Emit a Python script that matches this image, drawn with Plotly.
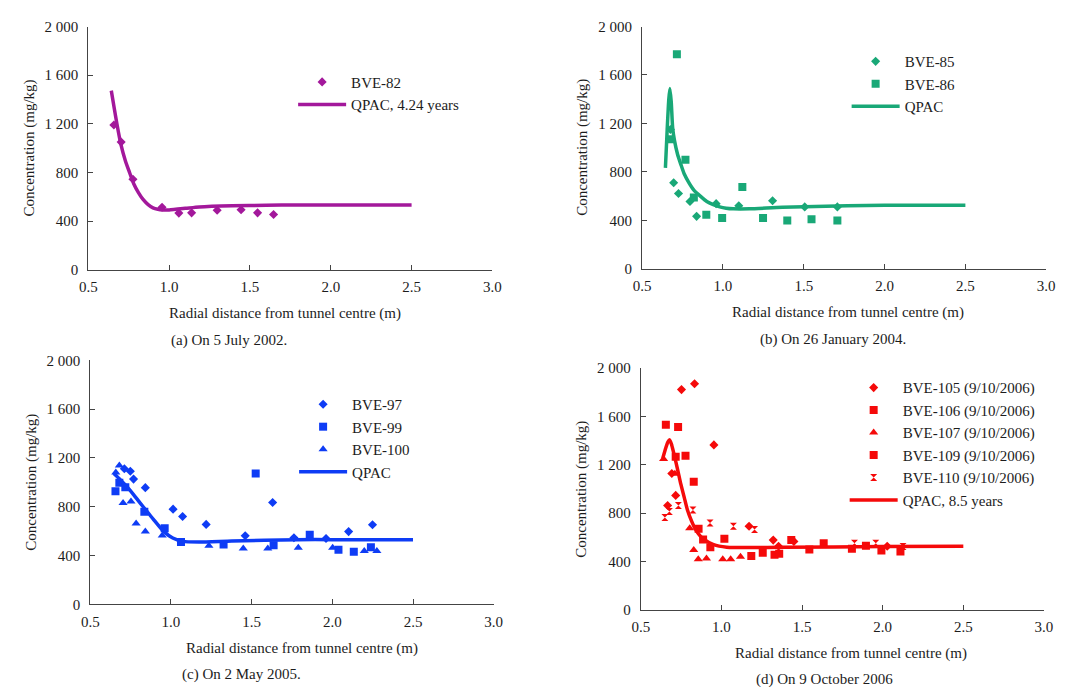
import plotly.graph_objects as go

W, H = 1067, 687
FONT = "Liberation Serif"
FS = 15
TXT = "#1c1c1c"

# ---- (a) 5 July 2002 ----
a_bve82_x = [0.658, 0.703, 0.776, 0.956, 1.06, 1.139, 1.297, 1.445, 1.547, 1.646]
a_bve82_y = [1190, 1050, 744, 514, 466, 468, 490, 493, 468, 455]
a_qpac_x = [0.642, 0.66, 0.678, 0.70, 0.729, 0.755, 0.78, 0.81, 0.84, 0.87, 0.90, 0.93,
            0.962, 1.0, 1.1, 1.186, 1.39, 1.6, 1.79, 2.0, 2.5]
a_qpac_y = [1473, 1330, 1191, 1040, 897, 800, 710, 635, 576, 535, 509, 497,
            492, 492, 505, 517, 527, 530, 533, 533, 533]

# ---- (b) 26 January 2004 ----
b_bve85_x = [0.675, 0.695, 0.725, 0.796, 0.837, 0.958, 1.098, 1.307, 1.506, 1.708]
b_bve85_y = [1150, 710, 621, 556, 433, 538, 521, 562, 511, 511]
b_bve86_x = [0.678, 0.715, 0.768, 0.82, 0.897, 0.995, 1.12, 1.248, 1.398, 1.548, 1.708]
b_bve86_y = [1070, 1771, 900, 589, 446, 419, 675, 419, 398, 409, 398]
b_qpac_x = [0.644, 0.655, 0.665, 0.672, 0.68, 0.689, 0.70, 0.719, 0.74, 0.76, 0.79, 0.82,
            0.86, 0.90, 0.94, 0.98, 1.02, 1.064, 1.165, 1.368, 1.77, 2.0, 2.5]
b_qpac_y = [833, 1150, 1400, 1489, 1380, 1161, 1060, 946, 860, 785, 710, 650,
            600, 556, 530, 511, 500, 495, 495, 508, 521, 524, 524]

# ---- (c) 2 May 2005 ----
c_bve97_x = [0.711, 0.748, 0.768, 0.841, 1.013, 1.072, 1.218, 1.46, 1.63, 1.762, 1.961, 2.101, 2.249]
c_bve97_y = [1112, 1091, 1027, 957, 781, 720, 656, 563, 835, 547, 541, 597, 653]
c_bve99_x = [0.656, 0.68, 0.717, 0.835, 0.961, 1.062, 1.326, 1.525, 1.636, 1.86, 2.038, 2.133, 2.239]
c_bve99_y = [928, 997, 960, 760, 624, 512, 491, 1072, 485, 571, 448, 432, 469]
c_bve100_x = [0.658, 0.68, 0.703, 0.752, 0.784, 0.841, 0.946, 1.235, 1.448, 1.6, 1.789, 2.002, 2.198, 2.276]
c_bve100_y = [1080, 1139, 832, 843, 664, 597, 565, 480, 459, 459, 464, 464, 437, 437]
c_qpac_x = [0.646, 0.687, 0.727, 0.768, 0.808, 0.85, 0.89, 0.95, 1.011, 1.072, 1.174,
            1.377, 1.783, 2.0, 2.5]
c_qpac_y = [1072, 1020, 965, 900, 832, 765, 699, 605, 544, 517, 512,
            520, 531, 531, 531]

# ---- (d) 9 October 2006 ----
d_bve105_x = [0.666, 0.692, 0.716, 0.752, 0.833, 0.953, 1.171, 1.321, 1.354, 1.449, 2.028]
d_bve105_y = [863, 1127, 946, 1822, 1870, 1364, 691, 576, 525, 565, 525]
d_bve106_x = [0.655, 0.716, 0.731, 0.777, 0.828, 0.858, 0.886, 0.931, 1.018, 1.185, 1.256,
              1.329, 1.433, 1.545, 1.634]
d_bve106_y = [1531, 1267, 1512, 1275, 1059, 669, 581, 517, 587, 445, 471,
              455, 576, 498, 549]
d_bve107_x = [0.641, 0.711, 0.803, 0.828, 0.856, 0.907, 1.008, 1.057, 1.118]
d_bve107_y = [1248, 1125, 674, 493, 418, 423, 418, 418, 437]
d_bve109_x = [1.358, 1.809, 1.896, 1.992, 2.11]
d_bve109_y = [463, 504, 530, 490, 482]
d_bve110_x = [0.649, 0.677, 0.733, 0.823, 0.929, 1.074, 1.205, 1.825, 1.957, 2.126]
d_bve110_y = [763, 812, 863, 825, 717, 690, 664, 549, 549, 522]
d_qpac_x = [0.636, 0.655, 0.668, 0.679, 0.692, 0.707, 0.728, 0.748, 0.769, 0.789, 0.814,
            0.839, 0.865, 0.89, 0.951, 1.033, 1.175, 1.378, 2.0, 2.5]
d_qpac_y = [1254, 1340, 1390, 1406, 1360, 1280, 1160, 1039, 930, 825, 735,
            664, 615, 584, 538, 517, 514, 517, 522, 525]

x_ticks = [0.5, 1.0, 1.5, 2.0, 2.5, 3.0]
x_ticktext = ["0.5", "1.0", "1.5", "2.0", "2.5", "3.0"]
y_ticks = [0, 400, 800, 1200, 1600, 2000]
y_ticktext = ["0", "400", "800", "1 200", "1 600", "2 000"]

x_title = "Radial distance from tunnel centre (m)"
y_title = "Concentration (mg/kg)"

PURPLE = "#A3189B"
GREEN = "#19A877"
BLUE = "#0E3CF5"
RED = "#F50A0A"

# plot-area boxes in pixels: left, right, top, bottom
panels = [
    dict(box=(80.7, 491.7, 19, 268), color=PURPLE, caption="(a) On 5 July 2002.",
         cap_x=224, title_x=281, legend=dict(x=289, y=59)),
    dict(box=(644, 1055, 19, 267), color=GREEN, caption="(b) On 26 January 2004.",
         cap_x=838, title_x=853, legend=dict(x=852, y=38)),
    dict(box=(82.7, 493, 360.7, 610.7), color=BLUE, caption="(c) On 2 May 2005.",
         cap_x=236, title_x=298, legend=dict(x=290, y=389)),
    dict(box=(642.7, 1052.7, 368.7, 616), color=RED, caption="(d) On 9 October 2006",
         cap_x=829, title_x=856, legend=dict(x=850, y=372)),
]

series = [
    [("BVE-82", a_bve82_x, a_bve82_y, "diamond", 7),
     ("QPAC, 4.24 years", a_qpac_x, a_qpac_y, None, None)],
    [("BVE-85", b_bve85_x, b_bve85_y, "diamond", 7),
     ("BVE-86", b_bve86_x, b_bve86_y, "square", 8),
     ("QPAC", b_qpac_x, b_qpac_y, None, None)],
    [("BVE-97", c_bve97_x, c_bve97_y, "diamond", 7),
     ("BVE-99", c_bve99_x, c_bve99_y, "square", 8),
     ("BVE-100", c_bve100_x, c_bve100_y, "triangle-up", 8),
     ("QPAC", c_qpac_x, c_qpac_y, None, None)],
    [("BVE-105 (9/10/2006)", d_bve105_x, d_bve105_y, "diamond", 7),
     ("BVE-106 (9/10/2006)", d_bve106_x, d_bve106_y, "square", 8),
     ("BVE-107 (9/10/2006)", d_bve107_x, d_bve107_y, "triangle-up", 8),
     ("BVE-109 (9/10/2006)", d_bve109_x, d_bve109_y, "square", 8),
     ("BVE-110 (9/10/2006)", d_bve110_x, d_bve110_y, "hourglass", 7),
     ("QPAC, 8.5 years", d_qpac_x, d_qpac_y, None, None)],
]

fig = go.Figure()
layout = dict(
    width=W, height=H, margin=dict(l=0, r=0, t=0, b=0),
    paper_bgcolor="white", plot_bgcolor="white",
    font=dict(family=FONT, size=FS, color=TXT),
    annotations=[],
)

for i, (p, group) in enumerate(zip(panels, series)):
    k = "" if i == 0 else str(i + 1)
    xa, ya = "x" + k, "y" + k
    leg = "legend" + k
    l, r, t, b = p["box"]
    color = p["color"]

    for name, xs, ys, sym, size in group:
        if sym is None:
            fig.add_trace(go.Scatter(
                x=xs, y=ys, name=name, mode="lines", xaxis=xa, yaxis=ya, legend=leg,
                line=dict(color=color, width=3.5, shape="spline", smoothing=0.6)))
        else:
            fig.add_trace(go.Scatter(
                x=xs, y=ys, name=name, mode="markers", xaxis=xa, yaxis=ya, legend=leg,
                marker=dict(symbol=sym, size=size, color=color, line=dict(width=0))))

    axis_common = dict(
        showgrid=False, zeroline=False, showline=True, linecolor="#444444", linewidth=1.3,
        ticks="inside", ticklen=5, tickwidth=1.2, tickcolor="#444444",
        tickfont=dict(family=FONT, size=FS, color=TXT), fixedrange=True,
    )
    layout["xaxis" + k] = dict(
        axis_common, domain=[l / W, r / W], range=[0.5, 3.0], anchor=ya,
        tickvals=x_ticks, ticktext=x_ticktext, ticklabelstandoff=3)
    layout["yaxis" + k] = dict(
        axis_common, domain=[1 - b / H, 1 - t / H], range=[0, 2000], anchor=xa,
        tickvals=y_ticks, ticktext=y_ticktext, ticklabelstandoff=6)

    lg = p["legend"]
    layout[leg] = dict(
        x=lg["x"] / W, y=1 - lg["y"] / H, xanchor="left", yanchor="top",
        bgcolor="rgba(0,0,0,0)", borderwidth=0, itemwidth=48,
        font=dict(family=FONT, size=FS, color=TXT), tracegroupgap=0,
        itemclick=False, itemdoubleclick=False)

    # axis titles and caption
    layout["annotations"] += [
        dict(text=x_title, xref="paper", yref="paper", x=p["title_x"] / W,
             y=1 - (b + 45) / H, xanchor="center", yanchor="middle", showarrow=False,
             font=dict(family=FONT, size=FS, color=TXT)),
        dict(text=p["caption"], xref="paper", yref="paper", x=p["cap_x"] / W,
             y=1 - (b + 72) / H, xanchor="center", yanchor="middle", showarrow=False,
             font=dict(family=FONT, size=FS, color=TXT)),
        dict(text=y_title, xref="paper", yref="paper", x=(l - 60) / W,
             y=1 - (t + b) / 2 / H, xanchor="center", yanchor="middle", showarrow=False,
             textangle=-90, font=dict(family=FONT, size=FS, color=TXT)),
    ]

fig.update_layout(**layout)
fig.write_html("out.html")
